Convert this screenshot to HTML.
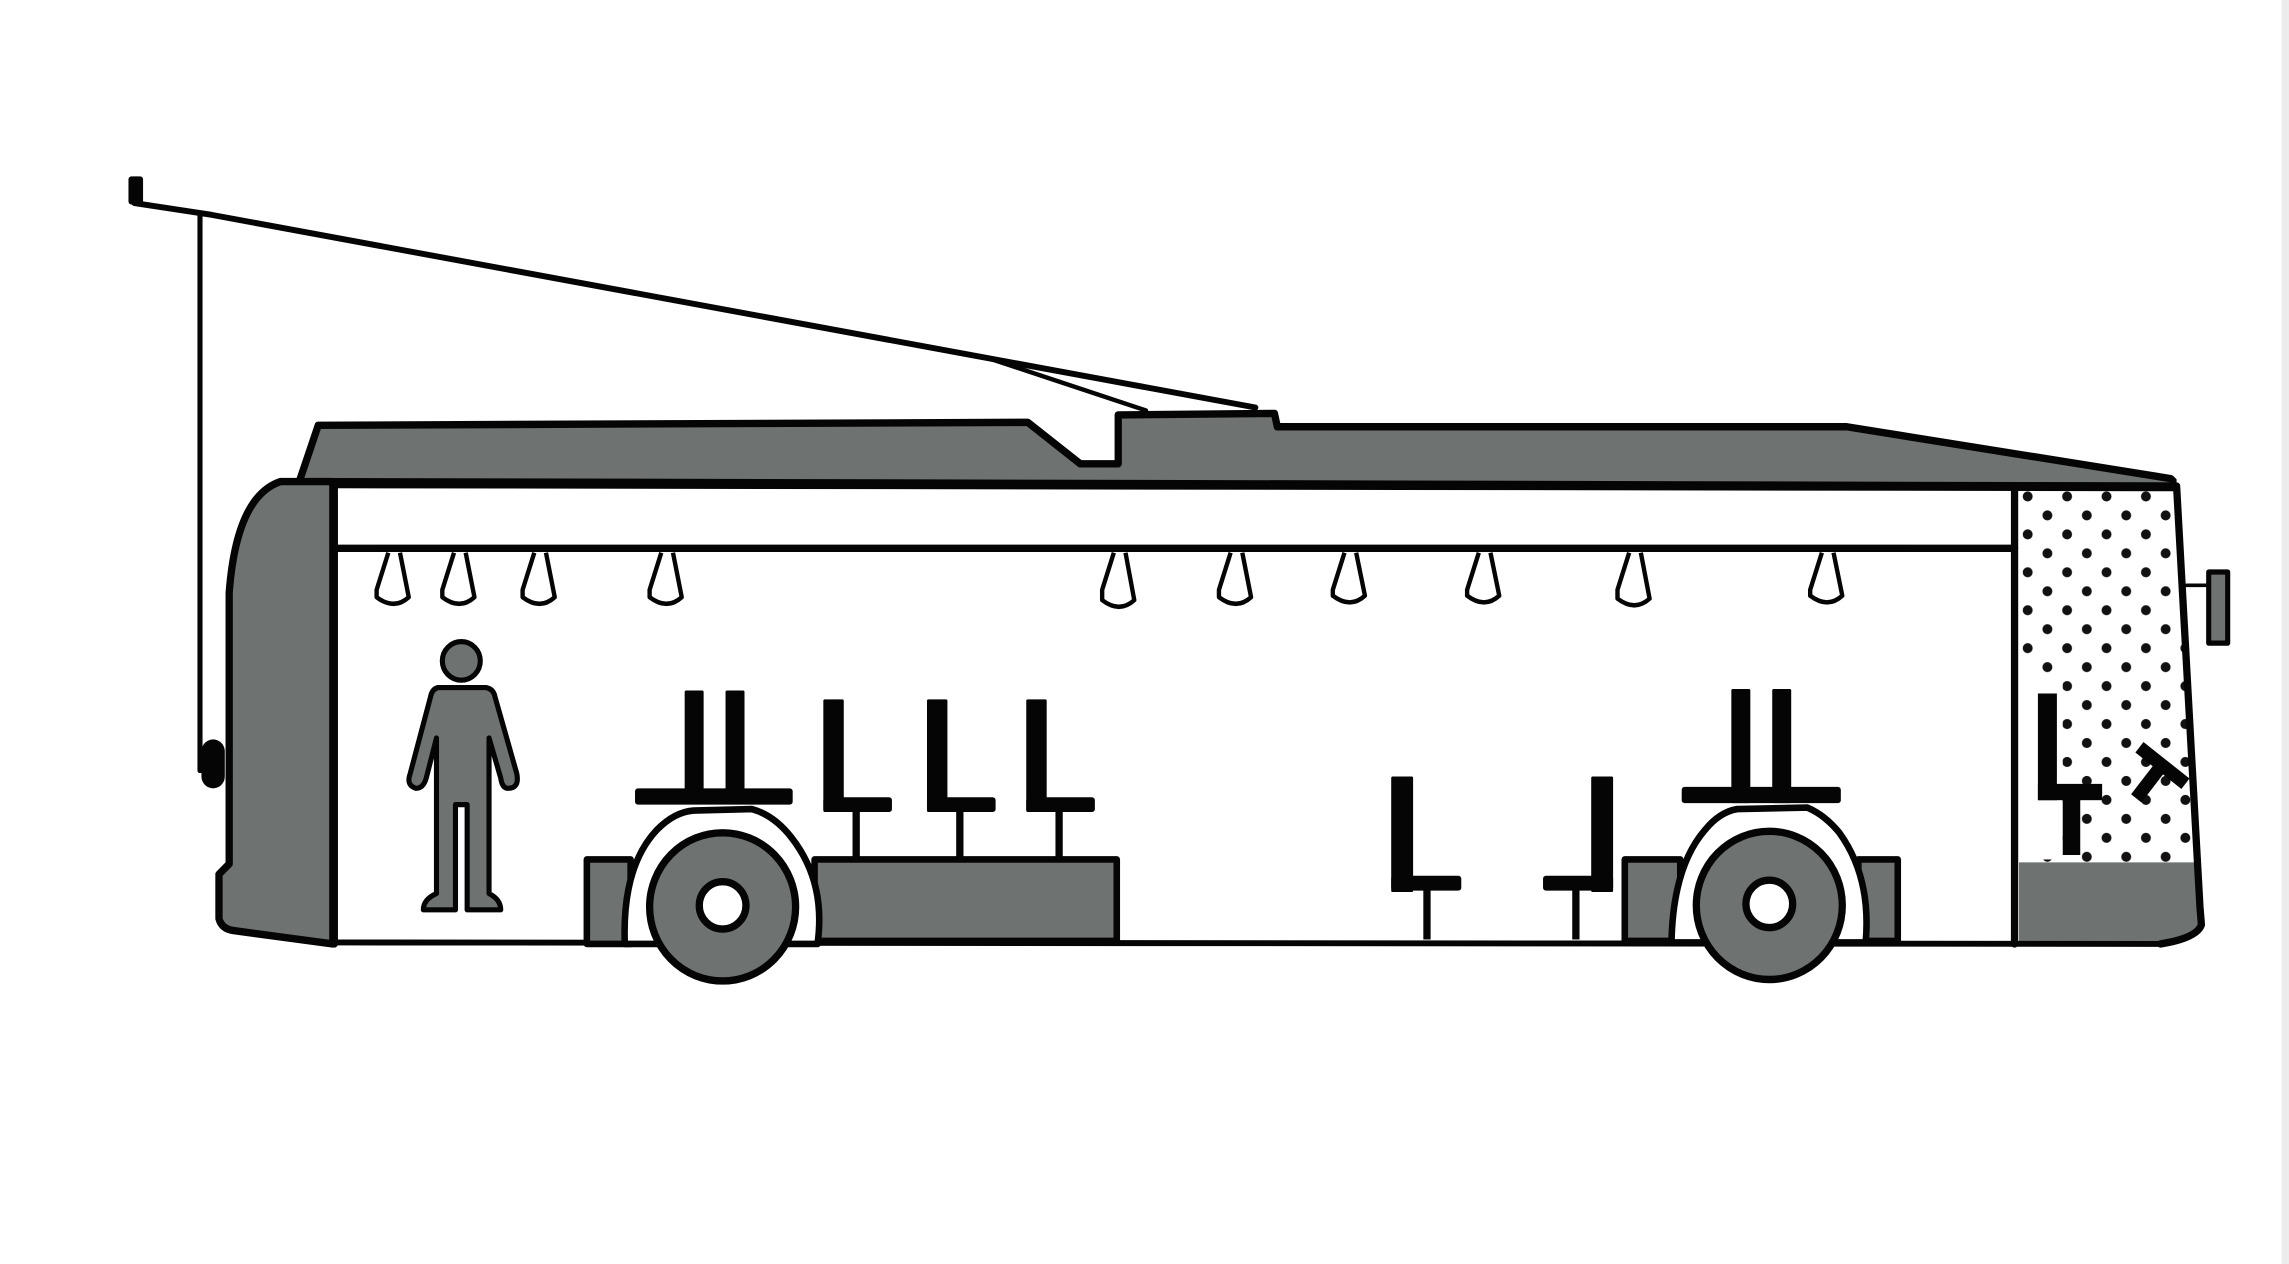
<!DOCTYPE html>
<html><head><meta charset="utf-8"><style>html,body{margin:0;padding:0;background:#fff}svg{display:block}</style></head>
<body>
<svg width="2289" height="1264" viewBox="0 0 1568 853" preserveAspectRatio="none" xmlns="http://www.w3.org/2000/svg">
<defs>
<pattern id="dots" x="1383" y="330" width="27" height="25.6" patternUnits="userSpaceOnUse">
<circle cx="6" cy="5" r="3.4" fill="#111"/><circle cx="19.5" cy="17.8" r="3.4" fill="#111"/>
</pattern>
</defs>
<g fill="none" stroke="#050505" stroke-linejoin="round" stroke-linecap="round">
<g>
<rect x="89" y="120" width="8" height="17" rx="1" fill="#050505" stroke-width="2"/>
<polyline points="92,137 145,145 860,275" stroke-width="4"/>
<line x1="137" y1="145" x2="137" y2="520" stroke-width="3.5"/>
<line x1="678" y1="242" x2="785" y2="277" stroke-width="3"/>
<rect x="138" y="499" width="16" height="33" rx="8" fill="#050505" stroke="none"/>
</g>
<path d="M205,325 L218,287 L704,285 L740,313 L766,313 L766,280 L873,279 L875,288 L1265,288 L1487,323 L1492,328 Z" fill="#6e7371" stroke-width="5"/>
<path d="M192,325 Q162,335 157,400 L157,583 L150,590 L150,620 Q152,627 160,628 L228,637 L228,325 Z" fill="#6e7371" stroke-width="5"/>
<rect x="1383" y="331" width="125" height="252" fill="url(#dots)" stroke="none"/>
<rect x="1383" y="455" width="30" height="125" fill="#fff" stroke="none"/>
<path d="M1383,582 L1506,582 L1508,622 Q1500,634 1480,636 L1383,636 Z" fill="#6e7371" stroke="none"/>
<polygon points="1491,328 1508,612 1568,612 1568,0 1491,0" fill="#fff" stroke="none"/>
<path d="M1491,328 L1507,612 L1508,624 Q1505,633 1480,637" stroke-width="5"/>
<line x1="1498" y1="395" x2="1513" y2="395" stroke-width="2.5"/>
<rect x="1513" y="386" width="13" height="48" fill="#6e7371" stroke-width="3.5"/>
<line x1="229" y1="325" x2="229" y2="637" stroke-width="5"/>
<line x1="229" y1="327" x2="1490" y2="329" stroke-width="5"/>
<line x1="229" y1="370" x2="1380" y2="370" stroke-width="5"/>
<line x1="1380" y1="328" x2="1380" y2="637" stroke-width="5"/>
<line x1="229" y1="636" x2="1480" y2="637" stroke-width="4"/>
<rect x="558" y="580" width="207" height="55" fill="#6e7371" stroke-width="4.5"/>
<rect x="402" y="580" width="30" height="57" fill="#6e7371" stroke-width="4.5"/>
<rect x="1113" y="580" width="38" height="55" fill="#6e7371" stroke-width="4.5"/>
<rect x="1273" y="580" width="27" height="55" fill="#6e7371" stroke-width="4.5"/>
<path d="M428,637 Q426,585 450,560 Q462,548 475,547 L515,546 Q530,550 542,565 Q566,595 560,637 Z" fill="#fff" stroke-width="4.5"/>
<path d="M1145,636 Q1146,585 1168,560 Q1178,548 1190,546 L1238,545 Q1250,550 1260,562 Q1282,592 1278,636 Z" fill="#fff" stroke-width="4.5"/>
<g><circle cx="495" cy="612" r="50" fill="#6e7371" stroke-width="5"/><circle cx="495" cy="611" r="16" fill="#fff" stroke-width="5"/></g>
<g><circle cx="1212" cy="611" r="50" fill="#6e7371" stroke-width="5"/><circle cx="1212" cy="610" r="16" fill="#fff" stroke-width="5"/></g>
</g>
<rect x="1563" y="0" width="5" height="853" fill="#ececec"/>
<g fill="#fff" stroke="#050505" stroke-width="3" stroke-linejoin="round">
<path d="M266,373 L258,398 L258,403 Q270,412 280,403 L274,373"/>
<path d="M311,373 L303,398 L303,403 Q315,412 325,403 L319,373"/>
<path d="M366,373 L358,398 L358,403 Q370,412 380,403 L374,373"/>
<path d="M453,373 L445,398 L445,403 Q457,412 467,403 L461,373"/>
<path d="M763,373 L755,398 L755,405 Q767,414 777,405 L771,373"/>
<path d="M843,373 L835,398 L835,403 Q847,412 857,403 L851,373"/>
<path d="M921,373 L913,398 L913,402 Q925,411 935,402 L929,373"/>
<path d="M1013,373 L1005,398 L1005,402 Q1017,411 1027,402 L1021,373"/>
<path d="M1116,373 L1108,398 L1108,404 Q1120,413 1130,404 L1124,373"/>
<path d="M1248,373 L1240,398 L1240,402 Q1252,411 1262,402 L1256,373"/>
</g>
<g fill="#6e7371" stroke="#050505" stroke-width="3.5" stroke-linejoin="round">
<circle cx="316" cy="446" r="13"/>
<path d="M300,464 L333,464 Q338,465 339,470 L354,522 Q356,532 348,532 Q344,532 343,525 L335,498 L335,603 Q343,607 343,614 L320,614 L320,543 L312,543 L312,614 L290,614 Q290,607 299,603 L299,498 L292,525 Q290,532 285,532 Q278,530 281,522 L295,470 Q296,465 300,464 Z"/>
</g>
<g fill="#050505">
<rect x="469" y="466" width="13" height="76" rx="1"/><rect x="497" y="466" width="13" height="76" rx="1"/>
<rect x="435" y="532" width="108" height="11" rx="2"/>
<rect x="564" y="472" width="14" height="76" rx="1"/><rect x="564" y="538" width="47" height="10" rx="2"/><rect x="584" y="546" width="5" height="35"/>
<rect x="635" y="472" width="14" height="76" rx="1"/><rect x="635" y="538" width="47" height="10" rx="2"/><rect x="655" y="546" width="5" height="35"/>
<rect x="703" y="472" width="14" height="76" rx="1"/><rect x="703" y="538" width="47" height="10" rx="2"/><rect x="723" y="546" width="5" height="35"/>
<rect x="953" y="524" width="15" height="78" rx="1"/><rect x="953" y="591" width="48" height="10" rx="2"/><rect x="975" y="599" width="5" height="35"/>
<rect x="1090" y="524" width="15" height="78" rx="1"/><rect x="1057" y="591" width="48" height="10" rx="2"/><rect x="1077" y="599" width="5" height="35"/>
<rect x="1186" y="465" width="13" height="77" rx="1"/><rect x="1214" y="465" width="13" height="77" rx="1"/>
<rect x="1152" y="531" width="109" height="11" rx="2"/>
<rect x="1396" y="468" width="13" height="72"/><rect x="1396" y="529" width="44" height="11"/><rect x="1413" y="538" width="12" height="39"/>
<g transform="translate(1481,517) rotate(38)"><rect x="-20" y="-5" width="40" height="9"/><rect x="-5" y="0" width="9" height="28"/></g>
</g>
</svg>
</body></html>
